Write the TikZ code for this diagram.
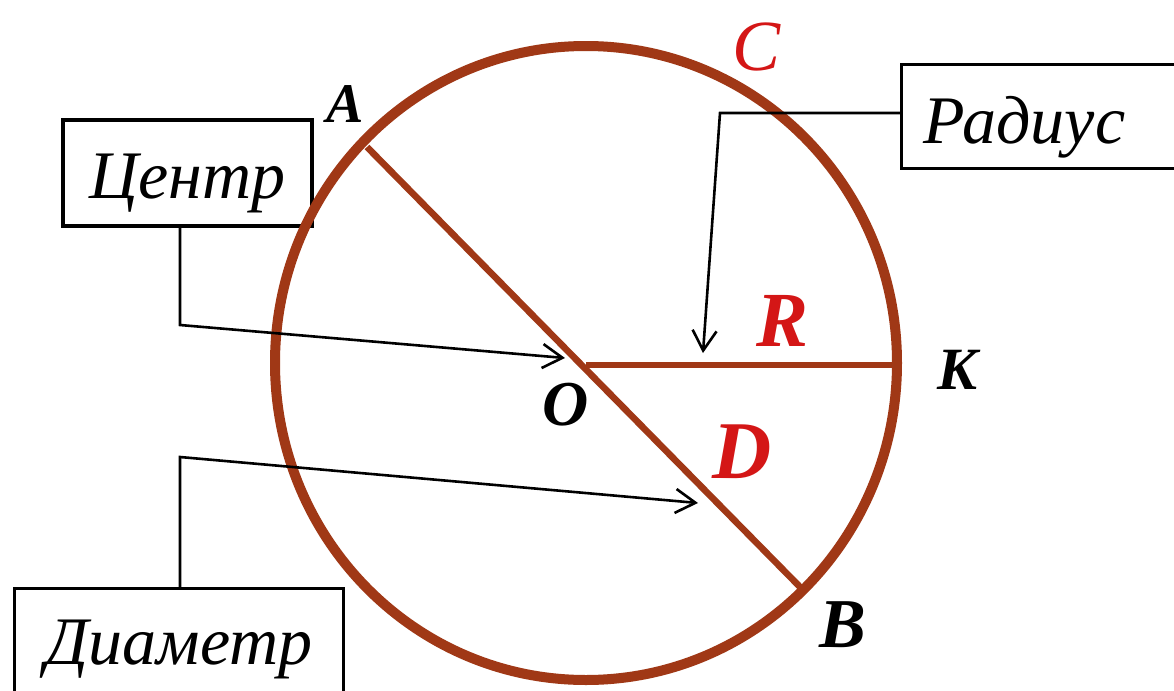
\documentclass[tikz,border=0pt]{standalone}
\usepackage{fontspec}
\setmainfont{Liberation Serif}
\usetikzlibrary{arrows.meta,calc}
\definecolor{brownline}{RGB}{160,56,22}
\definecolor{redlbl}{RGB}{212,22,22}
\begin{document}
\begin{tikzpicture}[x=0.5pt,y=-0.5pt,
  box/.style={draw=black,line width=1.6pt,rectangle,inner ysep=0pt,
    font=\fontsize{34}{40}\selectfont\itshape},
  conn/.style={draw=black,line width=1.3pt,
    -{Straight Barb[length=10pt,width=12pt,line width=1.3pt]}},
  ptlbl/.style={inner sep=0pt,text=black},
  redpt/.style={inner sep=0pt,text=redlbl},
  rim/.style={draw=brownline,line width=5pt},
  seg/.style={draw=brownline,line width=3.3pt}]
\useasboundingbox (0,0) rectangle (1174,691);
\clip (0,0) rectangle (1174,691);
\fill[white] (0,0) rectangle (1174,691);

% key points
\coordinate (Oc) at (586,365);
\coordinate (A) at (367,147);
\coordinate (B) at (804,591);
\coordinate (K) at (896,365);

% boxes
\node[box, inner xsep=0pt, minimum width=124.5pt, text height=39pt, text depth=14pt]
  (centr) at (187.5,173) {Центр};
\node[box, anchor=north west, inner xsep=11pt, text width=140pt, align=left,
  text height=39.5pt, text depth=12.5pt] (rad) at (900,63) {Радиус};
\node[box, anchor=north west, inner xsep=0pt, minimum width=164.5pt,
  text height=38pt, text depth=30pt] (diam) at (13,587) {Диаметр};

% circle, diameter, radius
\draw[rim] (586,363) ellipse [x radius=311, y radius=317];
\draw[seg] (A) -- (B);
\draw[seg] (Oc) -- (K);

% point labels
\node[ptlbl, font=\fontsize{28}{28}\selectfont\bfseries\itshape] (Albl) at (345,104) {A};
\node[ptlbl, font=\fontsize{32}{32}\selectfont\bfseries\itshape] (Olbl) at (566,405) {O};
\node[ptlbl, font=\fontsize{35}{35}\selectfont\bfseries\itshape] (Blbl) at (843,625) {B};
\node[ptlbl, font=\fontsize{30}{30}\selectfont\bfseries\itshape] (Klbl) at (958,370) {K};
\node[redpt, font=\fontsize{36}{36}\selectfont\itshape] (Clbl) at (757,47) {C};
\node[redpt, font=\fontsize{39}{39}\selectfont\bfseries\itshape] (Rlbl) at (783,321) {R};
\node[redpt, font=\fontsize{41}{41}\selectfont\bfseries\itshape] (Dlbl) at (742,452) {D};

% connectors
\coordinate (c1) at (180,325);
\coordinate (tipO) at (565,358);
\draw[conn] (centr.south -| c1) -- (c1) -- (tipO);

\coordinate (d1) at (180,457);
\coordinate (tipD) at (698,503);
\draw[conn] (diam.north -| d1) -- (d1) -- (tipD);

\coordinate (r1) at (720,113);
\coordinate (tipR) at (703,353);
\draw[conn] (rad.west |- r1) -- (r1) -- (tipR);
\end{tikzpicture}
\end{document}
